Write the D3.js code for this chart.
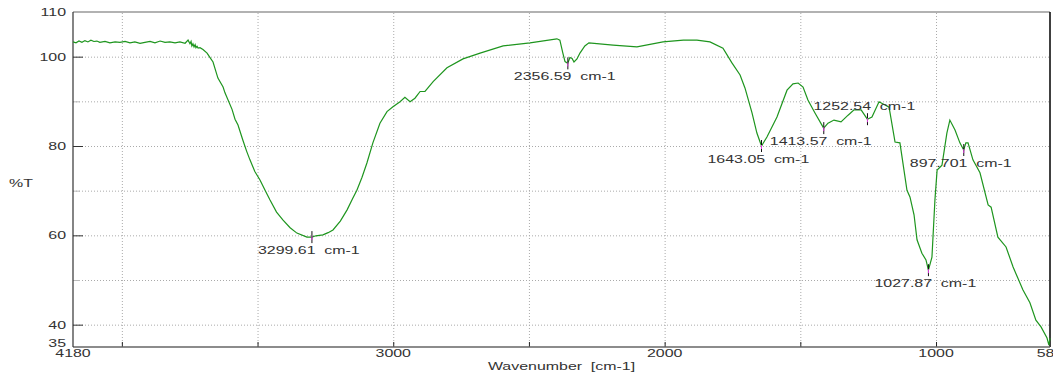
<!DOCTYPE html>
<html>
<head>
<meta charset="utf-8">
<script src="https://cdn.jsdelivr.net/npm/d3@7"></script>
<style>
  html, body { margin: 0; padding: 0; background: #fff; }
  text { font-family: "Liberation Sans", Arial, sans-serif; font-size: 11px; fill: #333; }
</style>
</head>
<body>
<div id="chart"></div>
<script>
// spectrum (wavenumber in cm-1, transmittance in %T)
const wavenumber = [
  4180, 4169, 4158, 4147, 4136, 4125, 4114, 4103, 4092, 4081, 4062, 4044, 4025, 4007, 3988, 3970,
  3952, 3933, 3915, 3896, 3878, 3859, 3841, 3823, 3804, 3786, 3767, 3756, 3749, 3745, 3742, 3738,
  3734, 3730, 3727, 3723, 3719, 3712, 3701, 3686, 3675, 3664, 3655, 3646, 3627, 3620, 3594, 3583,
  3572, 3554, 3540, 3528, 3510, 3491, 3470, 3454, 3430, 3406, 3380, 3355, 3318, 3300, 3285, 3259,
  3240, 3222, 3195, 3170, 3150, 3134, 3115, 3097, 3075, 3049, 3023, 3001, 2975, 2957, 2938, 2920,
  2901, 2883, 2853, 2802, 2743, 2680, 2595, 2496, 2397, 2386, 2375, 2367, 2357, 2349, 2341, 2334,
  2323, 2312, 2294, 2279, 2190, 2102, 2006, 1931, 1881, 1833, 1785, 1752, 1722, 1704, 1678, 1660,
  1643, 1623, 1586, 1549, 1527, 1508, 1490, 1472, 1446, 1414, 1398, 1376, 1350, 1324, 1302, 1276,
  1253, 1236, 1210, 1173, 1151, 1133, 1107, 1096, 1081, 1070, 1052, 1037, 1028, 1015, 1004, 996,
  978, 960, 949, 930, 912, 898, 890, 882, 864, 838, 808, 797, 772, 742, 716, 680,
  654, 632, 613, 591, 584, 580
];
const transmittance = [
  103.3, 103.1, 103.5, 103.2, 103.6, 103.3, 103.7, 103.4, 103.5, 103.2, 103.4, 103.1, 103.3, 103.2, 103.4, 103.1,
  103.3, 103.0, 103.2, 103.4, 103.1, 103.5, 103.2, 103.3, 103.1, 103.3, 103.0, 103.7, 102.9, 103.4, 102.4, 102.9,
  102.2, 102.7, 102.0, 102.3, 101.9, 102.0, 101.6, 100.8, 99.8, 98.8, 97.0, 95.2, 93.2, 91.9, 88.2, 86.0,
  84.7, 81.3, 78.8, 76.9, 74.3, 72.4, 69.8, 67.9, 65.2, 63.4, 61.7, 60.5, 59.6, 59.6, 59.9, 60.1,
  60.6, 61.2, 63.2, 65.7, 68.2, 70.1, 73.0, 76.2, 80.7, 85.1, 87.7, 88.8, 89.9, 90.9, 89.9, 90.7,
  92.2, 92.2, 94.4, 97.5, 99.5, 100.8, 102.4, 103.1, 104.0, 103.7, 100.8, 98.9, 98.5, 99.8, 99.6, 98.8,
  99.5, 100.8, 102.4, 103.1, 102.6, 102.2, 103.3, 103.7, 103.7, 103.3, 101.9, 98.6, 95.9, 93.0, 87.4, 82.9,
  80.0, 82.0, 86.5, 92.5, 93.9, 94.1, 93.2, 90.3, 87.4, 84.0, 85.1, 85.8, 85.4, 86.9, 88.1, 88.1,
  86.0, 86.5, 89.9, 88.7, 80.9, 80.7, 70.1, 68.6, 64.6, 59.0, 56.0, 54.5, 52.2, 55.1, 67.9, 74.6,
  75.7, 82.9, 85.8, 83.6, 80.7, 79.1, 80.7, 80.7, 76.9, 74.0, 66.8, 66.3, 59.6, 57.4, 52.9, 47.8,
  44.9, 41.0, 39.5, 37.0, 35.4, 37.0
];

// picked peaks
const peakWavenumber = [3299.61, 2356.59, 1643.05, 1413.57, 1252.54, 1027.87, 897.701];
const peakT = [59.6, 98.5, 80.0, 84.0, 86.0, 52.2, 79.1];
const peakLabels = ["3299.61 cm-1", "2356.59 cm-1", "1643.05 cm-1", "1413.57 cm-1", "1252.54 cm-1", "1027.87 cm-1", "897.701 cm-1"];

// axis ticks
const xTickLabels = [4180, 3000, 2000, 1000, 580];
const xGrid = [4000, 3500, 3000, 2500, 2000, 1500, 1000];
const yTickLabels = [110, 100, 80, 60, 40, 35];
const yGrid = [100, 90, 80, 70, 60, 50, 40];
const yMajor = [100, 80, 60, 40];
const yMinor = [90, 70, 50];

const width = 1053, height = 373;
const plotLeft = 73, plotRight = 1050, plotTop = 12, plotBottom = 347;

const svg = d3.select("#chart").append("svg")
  .attr("width", width)
  .attr("height", height);

const x = d3.scaleLinear().domain([4180, 580]).range([plotLeft, plotRight]);
const y = d3.scaleLinear().domain([35, 110]).range([plotBottom, plotTop]);

// stretched text, the original font is very wide
const sx = 1.45;
function wideText(px, py, str, anchor) {
  return svg.append("text")
    .attr("transform", `translate(${px},${py}) scale(${sx},1)`)
    .attr("text-anchor", anchor)
    .attr("dy", "0.35em")
    .text(str);
}

// grid
svg.append("g")
  .attr("transform", `translate(0,${plotBottom})`)
  .call(d3.axisBottom(x).tickValues(xGrid).tickSize(-(plotBottom - plotTop)).tickFormat(""))
  .call(g => g.select(".domain").remove())
  .call(g => g.selectAll("line").attr("stroke", "#aaa").attr("stroke-dasharray", "1,2"));

svg.append("g")
  .attr("transform", `translate(${plotLeft},0)`)
  .call(d3.axisRight(y).tickValues(yGrid).tickSize(plotRight - plotLeft).tickFormat(""))
  .call(g => g.select(".domain").remove())
  .call(g => g.selectAll("line").attr("stroke", "#aaa").attr("stroke-dasharray", "1,2"));

// short ticks
svg.append("g")
  .attr("transform", `translate(${plotLeft},0)`)
  .call(d3.axisRight(y).tickValues(yMinor).tickSize(7).tickFormat(""))
  .call(g => g.select(".domain").remove())
  .call(g => g.selectAll("line").attr("stroke", "#bbb"));

svg.append("g")
  .attr("transform", `translate(${plotLeft},0)`)
  .call(d3.axisRight(y).tickValues(yMajor).tickSize(10).tickFormat(""))
  .call(g => g.select(".domain").remove())
  .call(g => g.selectAll("line").attr("stroke", "#333"));

svg.append("g")
  .attr("transform", `translate(0,${plotBottom})`)
  .call(d3.axisBottom(x).tickValues(xGrid).tickSize(-5).tickFormat(""))
  .call(g => g.select(".domain").remove())
  .call(g => g.selectAll("line").attr("stroke", "#222"));

// frame
svg.append("line").attr("x1", plotLeft).attr("x2", plotRight).attr("y1", plotTop).attr("y2", plotTop)
  .attr("stroke", "#999").attr("stroke-width", 1.5);
svg.append("line").attr("x1", plotRight).attr("x2", plotRight).attr("y1", plotTop).attr("y2", plotBottom)
  .attr("stroke", "#000").attr("stroke-width", 1.5);
svg.append("line").attr("x1", plotLeft).attr("x2", plotRight).attr("y1", plotBottom).attr("y2", plotBottom)
  .attr("stroke", "#666").attr("stroke-width", 1.5);
svg.append("line").attr("x1", plotLeft).attr("x2", plotLeft).attr("y1", plotTop).attr("y2", plotBottom)
  .attr("stroke", "#333").attr("stroke-width", 1.2);

// spectrum
const pts = wavenumber.map((w, i) => [w, transmittance[i]]);
svg.append("path")
  .datum(pts)
  .attr("fill", "none")
  .attr("stroke", "#1e951e")
  .attr("stroke-width", 1.2)
  .attr("d", d3.line().x(d => x(d[0])).y(d => y(d[1])));

// peak markers and labels
peakWavenumber.forEach((w, i) => {
  const px = x(w), py = y(peakT[i]);
  svg.append("line").attr("x1", px).attr("x2", px).attr("y1", py - 6).attr("y2", py + 6)
    .attr("stroke", "#111").attr("stroke-width", 1);
  svg.append("line").attr("x1", px).attr("x2", px).attr("y1", py - 1).attr("y2", py + 3)
    .attr("stroke", "#e040e0").attr("stroke-width", 1);
  const above = peakLabels[i] === "1252.54 cm-1";
  wideText(px - 54, above ? py - 13 : py + 13, peakLabels[i], "start")
    .style("word-spacing", "3px");
});

// y labels
yTickLabels.forEach(v => {
  const ty = v === 35 ? y(v) - 4 : y(v);
  wideText(66, ty, v, "end");
});

// x labels
xTickLabels.forEach(v => {
  wideText(x(v), 353, v, "middle");
});

wideText(21, 183, "%T", "middle");
wideText((plotLeft + plotRight) / 2, 366, "Wavenumber [cm-1]", "middle")
  .style("word-spacing", "3px");
</script>
</body>
</html>
